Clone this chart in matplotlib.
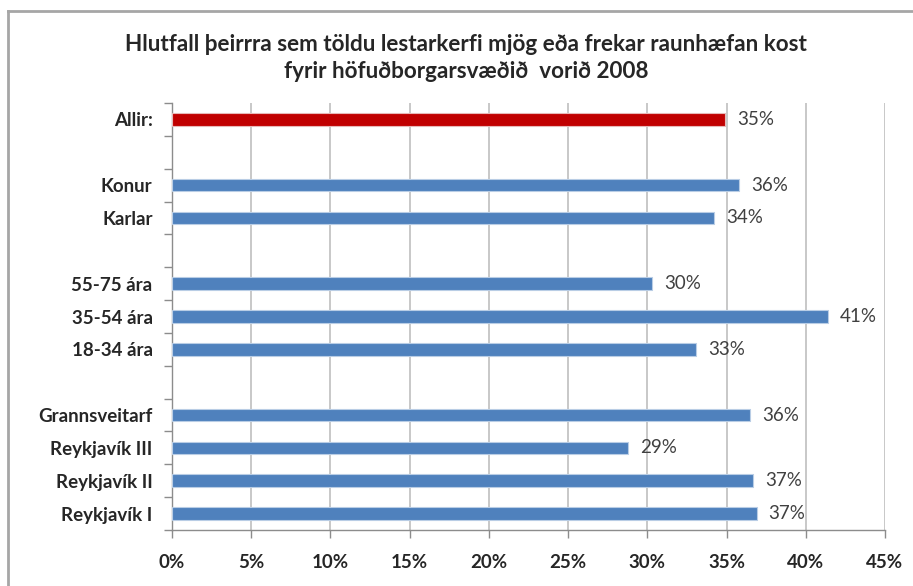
import matplotlib
matplotlib.use("Agg")
import matplotlib.pyplot as plt
from matplotlib.lines import Line2D
from matplotlib.ticker import MultipleLocator, FuncFormatter

# Groups listed bottom to top; empty strings are spacer rows between groups
categories = ["Reykjavík I", "Reykjavík II", "Reykjavík III", "Grannsveitarf", "",
              "18-34 ára", "35-54 ára", "55-75 ára", "",
              "Karlar", "Konur", "",
              "Allir:"]
values = [36.9, 36.7, 28.8, 36.5, None,
          33.1, 41.4, 30.3, None,
          34.2, 35.8, None,
          34.9]
highlight = ["Allir:"]
title = ("Hlutfall þeirrra sem töldu lestarkerfi mjög eða frekar raunhæfan kost\n"
         "fyrir höfuðborgarsvæðið  vorið 2008")

BLUE = "#4F81BD"
RED = "#C00000"
GRID = "#BFBFBF"
TEXT = "#262626"

plt.rcParams["font.family"] = ["Lato", "DejaVu Sans"]

fig = plt.figure(figsize=(9.13, 5.86), dpi=100)
ax = fig.add_axes([172 / 913, 1 - 530 / 586, (885 - 172) / 913, (530 - 103) / 586])

for i, (cat, val) in enumerate(zip(categories, values)):
    if val is None:
        continue
    color = RED if cat in highlight else BLUE
    ax.barh(i, val, height=0.38, color=color, edgecolor="#B9CDE5" if color == BLUE else "#E6B9B8",
            linewidth=0.8, zorder=3)
    ax.text(val + 0.75, i, f"{val:.0f}%", va="center", ha="left",
            fontsize=13.5, color="#404040", zorder=4)

ax.set_xlim(0, 45)
ax.set_ylim(-0.5, len(categories) - 0.5)
ax.xaxis.set_major_locator(MultipleLocator(5))
ax.xaxis.set_major_formatter(FuncFormatter(lambda v, p: f"{v:.0f}%"))
ax.set_yticks(range(len(categories)))
ax.set_yticklabels(categories, fontweight="bold", fontsize=13.5, color=TEXT)
for lbl in ax.get_xticklabels():
    lbl.set_fontweight("bold")
    lbl.set_fontsize(13.5)
    lbl.set_color(TEXT)

# Tick marks sit on the boundaries between rows
ax.set_yticks([y - 0.5 for y in range(len(categories) + 1)], minor=True)
ax.tick_params(axis="y", which="major", length=0, pad=14)
ax.tick_params(axis="y", which="minor", length=6, color="#8C8C8C", width=1)
ax.tick_params(axis="x", which="major", length=6, color="#8C8C8C", width=1, pad=11)

ax.grid(axis="x", color=GRID, linewidth=1.2, zorder=0)
for side in ("top", "right"):
    ax.spines[side].set_visible(False)
for side in ("left", "bottom"):
    ax.spines[side].set_color("#8C8C8C")
    ax.spines[side].set_linewidth(1)

fig.text(466 / 913, 1 - 58 / 586, title, ha="center", va="center",
         fontsize=16.2, fontweight="bold", color=TEXT, linespacing=1.3)

# Outer frame (top and left edges)
fig.add_artist(Line2D([8 / 913, 1], [1 - 11 / 586] * 2, transform=fig.transFigure,
                      color="#A6A6A6", linewidth=2))
fig.add_artist(Line2D([8 / 913] * 2, [0, 1 - 11 / 586], transform=fig.transFigure,
                      color="#A6A6A6", linewidth=2))

fig.savefig("out.png", dpi=100)
